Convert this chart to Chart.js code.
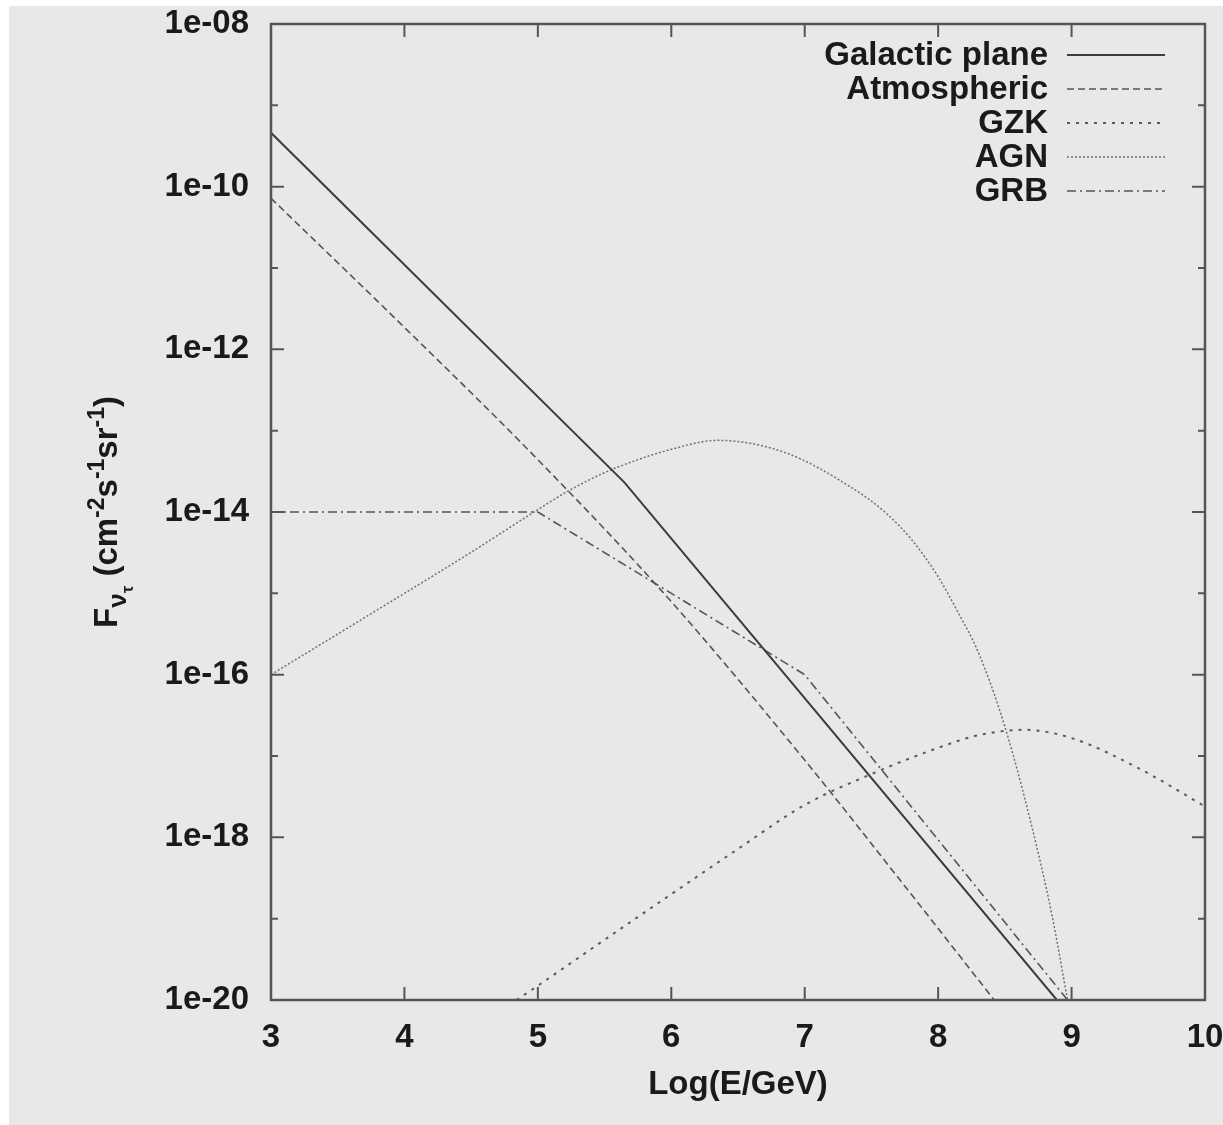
<!DOCTYPE html>
<html>
<head>
<meta charset="utf-8">
<script src="https://cdn.jsdelivr.net/npm/chart.js@4.4.1/dist/chart.umd.min.js"></script>
<style>
  html, body { margin: 0; padding: 0; background: #fff; }
  #wrap { position: relative; width: 1223px; height: 1125px; }
</style>
</head>
<body>
<div id="wrap"><canvas id="fluxChart"></canvas></div>
<script>
// x = log10(E/GeV), y = flux
const galacticX = [3, 5.65, 8.89];
const galacticY = [4.6e-10, 2.3e-14, 1e-20];

const atmosX = [3, 4, 5, 6, 7, 7.7, 8.42];
const atmosY = [7.2e-11, 1.86e-12, 4.4e-14, 7.9e-16, 8.9e-18, 3.2e-19, 1e-20];

const gzkX = [4.84, 5, 5.5, 6, 6.5, 7, 7.5, 8, 8.3, 8.65, 9, 9.5, 10];
const gzkY = [1e-20, 1.5e-20, 5.5e-20, 2.0e-19, 7.2e-19, 2.5e-18, 6.0e-18, 1.26e-17, 1.8e-17, 2.1e-17, 1.66e-17, 7.1e-18, 2.4e-18];

const agnX = [3, 4, 4.5, 5, 5.25, 5.55, 6, 6.35, 6.85, 7.35, 7.6, 7.8, 8, 8.15, 8.3, 8.5, 8.7, 8.85, 8.97];
const agnY = [1e-16, 1e-15, 3.2e-15, 1.07e-14, 1.9e-14, 3.3e-14, 5.9e-14, 7.6e-14, 5.4e-14, 2.0e-14, 1.0e-14, 4.6e-15, 1.6e-15, 5.8e-16, 1.9e-16, 2.3e-17, 1.4e-18, 1.17e-19, 1e-20];

const grbX = [3, 5, 7, 8.97];
const grbY = [1e-14, 1e-14, 1e-16, 1e-20];

const seriesNames = ["Galactic plane", "Atmospheric", "GZK", "AGN", "GRB"];
const yTickExp = [-20, -19, -18, -17, -16, -15, -14, -13, -12, -11, -10, -9, -8];

const FONT = "'Liberation Sans', Arial, sans-serif";
const textColor = "#1a1a1a";
const frameColor = "#555";

function pts(xs, ys) {
  return xs.map((x, i) => ({ x: x, y: ys[i] }));
}

// grey page with thin white margin
const pageBg = {
  id: "pageBg",
  beforeDraw(chart) {
    const { ctx, width, height } = chart;
    ctx.save();
    ctx.fillStyle = "#fff";
    ctx.fillRect(0, 0, width, height);
    ctx.fillStyle = "#e8e8e8";
    ctx.fillRect(9, 6, width - 9, height - 6);
    ctx.restore();
  }
};

// gnuplot style box with inward ticks on all sides
const frameTicks = {
  id: "frameTicks",
  afterDatasetsDraw(chart) {
    const { ctx, chartArea: a, scales } = chart;
    ctx.save();
    ctx.strokeStyle = frameColor;
    ctx.lineWidth = 2;
    ctx.beginPath();
    scales.x.ticks.forEach(t => {
      const px = scales.x.getPixelForValue(t.value);
      ctx.moveTo(px, a.bottom); ctx.lineTo(px, a.bottom - 13);
      ctx.moveTo(px, a.top); ctx.lineTo(px, a.top + 13);
    });
    scales.y.ticks.forEach(t => {
      const py = scales.y.getPixelForValue(t.value);
      const len = Math.round(Math.log10(t.value)) % 2 === 0 ? 13 : 7;
      ctx.moveTo(a.left, py); ctx.lineTo(a.left + len, py);
      ctx.moveTo(a.right, py); ctx.lineTo(a.right - len, py);
    });
    ctx.stroke();
    ctx.lineWidth = 2.5;
    ctx.strokeRect(a.left, a.top, a.right - a.left, a.bottom - a.top);
    ctx.restore();
  }
};

// legend: label right aligned, line sample on the right
const sampleLegend = {
  id: "sampleLegend",
  afterDraw(chart) {
    const { ctx, chartArea: a } = chart;
    ctx.save();
    ctx.font = "bold 33px " + FONT;
    ctx.textAlign = "right";
    ctx.textBaseline = "middle";
    chart.data.datasets.forEach((ds, i) => {
      const y = a.top + 31 + i * 34;
      ctx.fillStyle = textColor;
      ctx.setLineDash([]);
      ctx.fillText(ds.label, a.right - 157, y + 1);
      ctx.strokeStyle = ds.borderColor;
      ctx.lineWidth = ds.borderWidth;
      ctx.setLineDash(ds.borderDash || []);
      ctx.beginPath();
      ctx.moveTo(a.right - 138, y);
      ctx.lineTo(a.right - 40, y);
      ctx.stroke();
    });
    ctx.restore();
  }
};

// y title with sub/superscripts, rotated
const yTitle = {
  id: "yTitle",
  afterDraw(chart) {
    const { ctx, chartArea: a } = chart;
    const runs = [
      ["F", 33, 0], ["\u03bd", 26, 9], ["\u03c4", 17, 16], [" (cm", 33, 0], ["-2", 23, -13],
      ["s", 33, 0], ["-1", 23, -13], ["sr", 33, 0], ["-1", 23, -13], [")", 33, 0]
    ];
    ctx.save();
    let total = 0;
    runs.forEach(r => {
      ctx.font = "bold " + r[1] + "px " + FONT;
      total += ctx.measureText(r[0]).width;
    });
    ctx.translate(a.left - 154, (a.top + a.bottom) / 2);
    ctx.rotate(-Math.PI / 2);
    ctx.fillStyle = textColor;
    ctx.textAlign = "left";
    ctx.textBaseline = "alphabetic";
    let x = -total / 2;
    runs.forEach(r => {
      ctx.font = "bold " + r[1] + "px " + FONT;
      ctx.fillText(r[0], x, r[2]);
      x += ctx.measureText(r[0]).width;
    });
    ctx.restore();
  }
};

const datasets = [
  { label: seriesNames[0], data: pts(galacticX, galacticY), borderColor: "#3c3c3c", borderWidth: 2, borderDash: [], tension: 0 },
  { label: seriesNames[1], data: pts(atmosX, atmosY), borderColor: "#555", borderWidth: 1.6, borderDash: [7, 4], cubicInterpolationMode: "monotone" },
  { label: seriesNames[2], data: pts(gzkX, gzkY), borderColor: "#5a5a5a", borderWidth: 2, borderDash: [3, 6], cubicInterpolationMode: "monotone" },
  { label: seriesNames[3], data: pts(agnX, agnY), borderColor: "#707070", borderWidth: 1.5, borderDash: [2, 2], cubicInterpolationMode: "monotone" },
  { label: seriesNames[4], data: pts(grbX, grbY), borderColor: "#555", borderWidth: 1.6, borderDash: [9, 4, 2, 4], tension: 0 }
];

new Chart(document.getElementById("fluxChart"), {
  type: "line",
  data: { datasets: datasets },
  options: {
    responsive: true,
    maintainAspectRatio: false,
    animation: false,
    elements: { point: { radius: 0 } },
    layout: { padding: { left: 9, top: 24, right: 18, bottom: 0 } },
    plugins: {
      legend: { display: false },
      tooltip: { enabled: false }
    },
    scales: {
      x: {
        type: "linear",
        min: 3,
        max: 10,
        afterFit: (scale) => {
          scale.height = 125;
          scale.paddingLeft = 0;
          scale.paddingRight = 0;
        },
        grid: { display: false, drawTicks: false },
        border: { display: false },
        ticks: {
          stepSize: 1,
          padding: 21,
          color: textColor,
          font: { family: FONT, size: 33, weight: "bold", lineHeight: 1 }
        },
        title: {
          display: true,
          text: "Log(E/GeV)",
          color: textColor,
          font: { family: FONT, size: 33, weight: "bold", lineHeight: 1.2 },
          padding: { top: 0, bottom: 20 }
        }
      },
      y: {
        type: "logarithmic",
        min: 1e-20,
        max: 1e-8,
        afterBuildTicks: (scale) => {
          scale.ticks = yTickExp.map(e => ({ value: Math.pow(10, e) }));
        },
        afterFit: (scale) => {
          scale.width = 262;
          scale.paddingTop = 0;
          scale.paddingBottom = 0;
        },
        grid: { display: false, drawTicks: false },
        border: { display: false },
        ticks: {
          autoSkip: false,
          padding: 22,
          color: textColor,
          font: { family: FONT, size: 33, weight: "bold", lineHeight: 1 },
          callback: (v) => {
            const e = Math.round(Math.log10(v));
            return e % 2 === 0 ? "1e-" + String(-e).padStart(2, "0") : "";
          }
        }
      }
    }
  },
  plugins: [pageBg, frameTicks, sampleLegend, yTitle]
});
</script>
</body>
</html>
